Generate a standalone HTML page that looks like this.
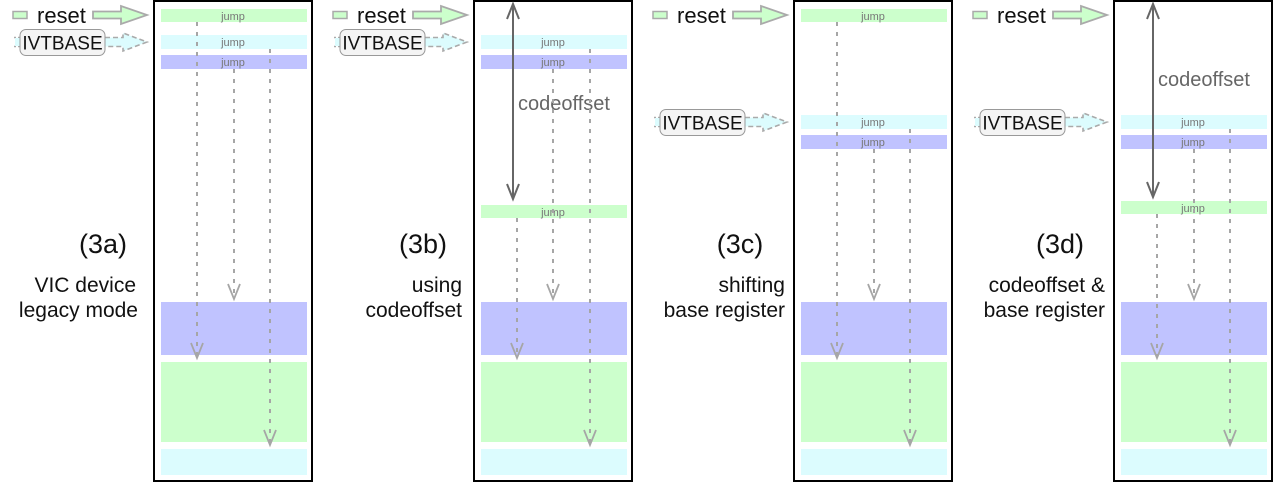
<!DOCTYPE html>
<html><head><meta charset="utf-8"><style>
html,body{margin:0;padding:0;background:#fff;}
svg{display:block;font-family:"Liberation Sans",sans-serif;}
</style></head><body>
<svg width="1276" height="484" viewBox="0 0 1276 484" xmlns="http://www.w3.org/2000/svg">
<defs>
<g id="reset">
  <rect x="-140" y="11.5" width="14" height="7" fill="#ccffcc" stroke="#aaa" stroke-width="1.5"/>
  <text x="-116" y="23" font-size="22" fill="#111">reset</text>
  <path d="M-60 11.5 H-32 V6 L-6 15 L-32 24 V18.5 H-60 Z" fill="#ccffcc" stroke="#aaa" stroke-width="1.8"/>
</g>
<g id="ivt">
  <path d="M-48 37.5 H-30 V33 L-6 42 L-30 51 V46.5 H-48" fill="#dcfcfe" stroke="#aaa" stroke-width="1.6" stroke-dasharray="5 3"/>
  <path d="M-139 37.5 H-133 M-139 46.5 H-133" stroke="#aaa" stroke-width="1.6" stroke-dasharray="2 2"/>
  <rect x="-138" y="38" width="5" height="8" fill="#dcfcfe"/>
  <rect x="-133" y="29.5" width="85" height="26" rx="6" fill="#f4f4f4" stroke="#999" stroke-width="1"/>
  <text x="-90.5" y="49.5" font-size="19" fill="#111" text-anchor="middle">IVTBASE</text>
</g>
<g id="frame">
  <rect x="8" y="302" width="146" height="53" fill="#c0c3ff"/>
  <rect x="8" y="362" width="146" height="80" fill="#ccffcc"/>
  <rect x="8" y="449" width="146" height="26" fill="#dcfcfe"/>
  <rect x="1" y="1" width="158" height="480" fill="none" stroke="#000" stroke-width="2"/>
</g>
</defs>
<style>
.d{stroke:#a6a6a6;stroke-width:2;stroke-dasharray:4 6;fill:none}
.h{stroke:#a6a6a6;stroke-width:1.8;fill:none}
.j{font-size:11px;fill:#777;text-anchor:middle}
.co{stroke:#666;stroke-width:2;fill:none}
.lbl{font-size:27px;fill:#111;text-anchor:middle}
.sub{font-size:21px;fill:#111;text-anchor:end}
.cot{font-size:20px;fill:#666}
</style>

<g transform="translate(153,0)">
  <use href="#reset"/><use href="#ivt"/><use href="#frame"/>
  <rect x="8" y="9" width="146" height="13" fill="#ccffcc"/><text class="j" x="80" y="20">jump</text>
  <rect x="8" y="35" width="146" height="14" fill="#dcfcfe"/><text class="j" x="80" y="46">jump</text>
  <rect x="8" y="55" width="146" height="14" fill="#c0c3ff"/><text class="j" x="80" y="66">jump</text>
  <line class="d" x1="44" y1="22" x2="44" y2="356"/><path class="h" d="M38 343 L44 358 L50 343"/>
  <line class="d" x1="81" y1="69" x2="81" y2="296"/><path class="h" d="M75 284 L81 299 L87 284"/>
  <line class="d" x1="117" y1="49" x2="117" y2="443"/><path class="h" d="M111 430 L117 445 L123 430"/>
  <text class="lbl" x="-50" y="253">(3a)</text>
  <text class="sub" x="-17" y="292">VIC device</text>
  <text class="sub" x="-15" y="317">legacy mode</text>
</g>

<g transform="translate(473,0)">
  <use href="#reset"/><use href="#ivt"/><use href="#frame"/>
  <rect x="8" y="35" width="146" height="14" fill="#dcfcfe"/><text class="j" x="80" y="46">jump</text>
  <rect x="8" y="55" width="146" height="14" fill="#c0c3ff"/><text class="j" x="80" y="66">jump</text>
  <rect x="8" y="205" width="146" height="13" fill="#ccffcc"/><text class="j" x="80" y="216">jump</text>
  <line class="co" x1="40" y1="4" x2="40" y2="199"/>
  <path class="co" d="M34 19 L40 4 L46 19 M34 184 L40 199 L46 184"/>
  <text class="cot" x="45" y="110">codeoffset</text>
  <line class="d" x1="44" y1="218" x2="44" y2="356"/><path class="h" d="M38 343 L44 358 L50 343"/>
  <line class="d" x1="80" y1="69" x2="80" y2="296"/><path class="h" d="M74 284 L80 299 L86 284"/>
  <line class="d" x1="117" y1="49" x2="117" y2="443"/><path class="h" d="M111 430 L117 445 L123 430"/>
  <text class="lbl" x="-50" y="253">(3b)</text>
  <text class="sub" x="-11" y="292">using</text>
  <text class="sub" x="-11" y="317">codeoffset</text>
</g>

<g transform="translate(793,0)">
  <use href="#reset"/><use href="#ivt" transform="translate(0,80)"/><use href="#frame"/>
  <rect x="8" y="9" width="146" height="13" fill="#ccffcc"/><text class="j" x="80" y="20">jump</text>
  <rect x="8" y="115" width="146" height="14" fill="#dcfcfe"/><text class="j" x="80" y="126">jump</text>
  <rect x="8" y="135" width="146" height="14" fill="#c0c3ff"/><text class="j" x="80" y="146">jump</text>
  <line class="d" x1="44" y1="22" x2="44" y2="356"/><path class="h" d="M38 343 L44 358 L50 343"/>
  <line class="d" x1="81" y1="149" x2="81" y2="296"/><path class="h" d="M75 284 L81 299 L87 284"/>
  <line class="d" x1="117" y1="129" x2="117" y2="443"/><path class="h" d="M111 430 L117 445 L123 430"/>
  <text class="lbl" x="-53" y="253">(3c)</text>
  <text class="sub" x="-8" y="292">shifting</text>
  <text class="sub" x="-8" y="317">base register</text>
</g>

<g transform="translate(1113,0)">
  <use href="#reset"/><use href="#ivt" transform="translate(0,80)"/><use href="#frame"/>
  <rect x="8" y="115" width="146" height="14" fill="#dcfcfe"/><text class="j" x="80" y="126">jump</text>
  <rect x="8" y="135" width="146" height="14" fill="#c0c3ff"/><text class="j" x="80" y="146">jump</text>
  <rect x="8" y="201" width="146" height="13" fill="#ccffcc"/><text class="j" x="80" y="212">jump</text>
  <line class="co" x1="40" y1="4" x2="40" y2="197"/>
  <path class="co" d="M34 19 L40 4 L46 19 M34 182 L40 197 L46 182"/>
  <text class="cot" x="45" y="86">codeoffset</text>
  <line class="d" x1="44" y1="214" x2="44" y2="356"/><path class="h" d="M38 343 L44 358 L50 343"/>
  <line class="d" x1="81" y1="149" x2="81" y2="296"/><path class="h" d="M75 284 L81 299 L87 284"/>
  <line class="d" x1="117" y1="129" x2="117" y2="443"/><path class="h" d="M111 430 L117 445 L123 430"/>
  <text class="lbl" x="-53" y="253">(3d)</text>
  <text class="sub" x="-8" y="292">codeoffset &amp;</text>
  <text class="sub" x="-8" y="317">base register</text>
</g>
</svg>
</body></html>
